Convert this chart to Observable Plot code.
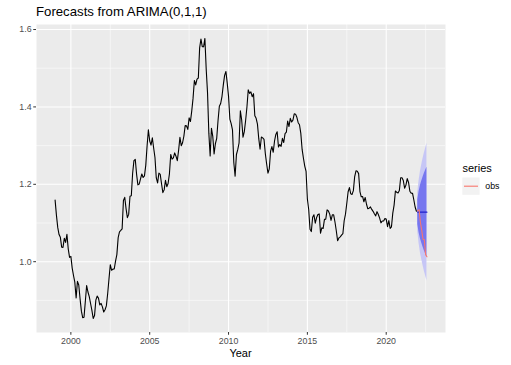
<!DOCTYPE html>
<html><head><meta charset="utf-8">
<script src="https://cdn.jsdelivr.net/npm/d3@7"></script>
<script src="https://cdn.jsdelivr.net/npm/@observablehq/plot@0.6"></script>
<style>body{margin:0;background:#fff} svg{display:block}</style>
</head><body><div id="chart"></div>
<script>
const startYear = 1999;
const obsValues = [
1.1591,1.1203,1.0886,1.0701,1.0630,1.0377,1.0370,1.0605,1.0497,1.0706,1.0328,1.0110,
1.0137,0.9834,0.9643,0.9470,0.9060,0.9492,0.9397,0.9041,0.8721,0.8552,0.8564,0.8973,
0.9383,0.9217,0.9095,0.8920,0.8742,0.8532,0.8607,0.9005,0.9111,0.9059,0.8883,0.8924,
0.8833,0.8700,0.8758,0.8858,0.9170,0.9554,0.9922,0.9778,0.9808,0.9811,1.0014,1.0183,
1.0622,1.0773,1.0807,1.0848,1.1582,1.1663,1.1372,1.1139,1.1222,1.1692,1.1702,1.2286,
1.2613,1.2646,1.2262,1.1985,1.2007,1.2138,1.2266,1.2176,1.2218,1.2490,1.2991,1.3408,
1.3119,1.3014,1.3201,1.2938,1.2694,1.2165,1.2037,1.2292,1.2256,1.2015,1.1786,1.1856,
1.2103,1.1938,1.2020,1.2271,1.2770,1.2650,1.2684,1.2811,1.2727,1.2611,1.2881,1.3213,
1.2999,1.3074,1.3242,1.3516,1.3511,1.3419,1.3716,1.3622,1.3896,1.4227,1.4684,1.4570,
1.4718,1.4748,1.5527,1.5751,1.5557,1.5553,1.5770,1.4975,1.4370,1.3322,1.2732,1.3449,
1.3239,1.2785,1.3050,1.3190,1.3650,1.4016,1.4088,1.4268,1.4562,1.4816,1.4914,1.4614,
1.4272,1.3686,1.3569,1.3406,1.2565,1.2209,1.2770,1.2894,1.3067,1.3898,1.3661,1.3220,
1.3360,1.3649,1.3999,1.4442,1.4349,1.4388,1.4264,1.4343,1.3770,1.3706,1.3556,1.3179,
1.2905,1.3224,1.3201,1.3162,1.2789,1.2526,1.2288,1.2400,1.2856,1.2974,1.2828,1.3119,
1.3288,1.3359,1.2964,1.3026,1.2982,1.3189,1.3080,1.3310,1.3348,1.3635,1.3493,1.3704,
1.3610,1.3659,1.3823,1.3813,1.3732,1.3592,1.3539,1.3316,1.2901,1.2673,1.2472,1.2331,
1.1621,1.1350,1.0838,1.0779,1.1150,1.1213,1.0996,1.1139,1.1221,1.1235,1.0736,1.0877,
1.0860,1.1093,1.1100,1.1339,1.1311,1.1229,1.1069,1.1212,1.1212,1.1026,1.0799,1.0543,
1.0614,1.0643,1.0685,1.0723,1.1058,1.1229,1.1511,1.1807,1.1915,1.1756,1.1738,1.1836,
1.2200,1.2348,1.2336,1.2276,1.1812,1.1678,1.1686,1.1549,1.1659,1.1484,1.1367,1.1384,
1.1416,1.1351,1.1302,1.1238,1.1185,1.1293,1.1218,1.1126,1.1004,1.1053,1.1051,1.1113,
1.1100,1.0905,1.1063,1.0862,1.0902,1.1255,1.1463,1.1828,1.1792,1.1775,1.1838,1.2170,
1.2171,1.2098,1.1899,1.1979,1.2146,1.2047,1.1822,1.1772,1.1770,1.1601,1.1414,1.1304
];
const testStart = 2022;
const testValues = [1.1314,1.1342,1.1019,1.0819,1.0579,1.0566,1.0179,1.0128];
const fcMean = [1.128,1.128,1.128,1.128,1.128,1.128,1.128,1.128];
const lo80 = [1.096,1.075,1.060,1.048,1.038,1.028,1.020,1.012];
const hi80 = [1.160,1.181,1.196,1.208,1.218,1.228,1.236,1.244];
const lo95 = [1.078,1.047,1.024,1.006,0.990,0.976,0.963,0.950];
const hi95 = [1.178,1.209,1.232,1.250,1.266,1.280,1.293,1.306];
const xTicks = [2000,2005,2010,2015,2020];
const xMinor = [2002.5,2007.5,2012.5,2017.5,2022.5];
const yTicks = [1.0,1.2,1.4,1.6];
const yMinor = [0.9,1.1,1.3,1.5];
const titleText = "Forecasts from ARIMA(0,1,1)";
const xLabel = "Year";
const legendTitle = "series";
const legendLabel = "obs";

const train = obsValues.map((v,i)=>({t: startYear + i/12, v}));
const test = testValues.map((v,i)=>({t: testStart + i/12, v}));
const fc = fcMean.map((m,i)=>({t: testStart + i/12, m, lo80: lo80[i], hi80: hi80[i], lo95: lo95[i], hi95: hi95[i]}));

const W = 511, H = 365, mL = 36, mR = 66, mT = 24, mB = 33;
const chart = Plot.plot({
  width: W, height: H,
  marginLeft: mL, marginRight: mR, marginTop: mT, marginBottom: mB,
  style: {fontFamily: "'Liberation Sans', Arial, Helvetica, sans-serif", background: "white", overflow: "visible"},
  x: {domain: [1997.82, 2023.76]},
  y: {domain: [0.817, 1.613]},
  marks: [
    Plot.frame({fill: "#EBEBEB", stroke: null}),
    Plot.ruleX(xMinor, {stroke: "white", strokeWidth: 0.53}),
    Plot.ruleY(yMinor, {stroke: "white", strokeWidth: 0.53}),
    Plot.ruleX(xTicks, {stroke: "white", strokeWidth: 1.07}),
    Plot.ruleY(yTicks, {stroke: "white", strokeWidth: 1.07}),
    Plot.axisX({ticks: xTicks, tickFormat: "d", tickSize: 2.75, tickPadding: 2.2, fontSize: 8.8, fill: "#4D4D4D", stroke: "#333333", label: null}),
    Plot.axisY({ticks: yTicks, tickFormat: ".1f", tickSize: 2.75, tickPadding: 2.2, fontSize: 8.8, fill: "#4D4D4D", stroke: "#333333", label: null}),
    Plot.line(train, {x: "t", y: "v", stroke: "black", strokeWidth: 1.1}),
    Plot.areaY(fc, {x: "t", y1: "lo95", y2: "hi95", fill: "#C6C6F6"}),
    Plot.areaY(fc, {x: "t", y1: "lo80", y2: "hi80", fill: "#7676EF"}),
    Plot.line(fc, {x: "t", y: "m", stroke: "#1E1ECC", strokeWidth: 1.1}),
    Plot.line(test, {x: "t", y: "v", stroke: "#F8766D", strokeWidth: 1.1})
  ]
});

const svg = d3.select(chart);
svg.append("text").attr("x", mL).attr("y", 15.5).attr("text-anchor", "start").attr("font-size", 13.2).attr("fill", "black").text(titleText);
svg.append("text").attr("x", mL + (W - mL - mR)/2).attr("y", 356.5).attr("text-anchor", "middle").attr("font-size", 11).attr("fill", "black").text(xLabel);
svg.append("text").attr("x", 462.5).attr("y", 171.5).attr("text-anchor", "start").attr("font-size", 11).attr("fill", "black").text(legendTitle);
svg.append("rect").attr("x", 462.3).attr("y", 177.5).attr("width", 17.3).attr("height", 17.3).attr("fill", "#F2F2F2");
svg.append("line").attr("x1", 464).attr("x2", 478).attr("y1", 186.2).attr("y2", 186.2).attr("stroke", "#F8766D").attr("stroke-width", 1.1);
svg.append("text").attr("x", 485.3).attr("y", 189.2).attr("text-anchor", "start").attr("font-size", 8.8).attr("fill", "black").text(legendLabel);

document.getElementById("chart").append(chart);
</script>
</body></html>
